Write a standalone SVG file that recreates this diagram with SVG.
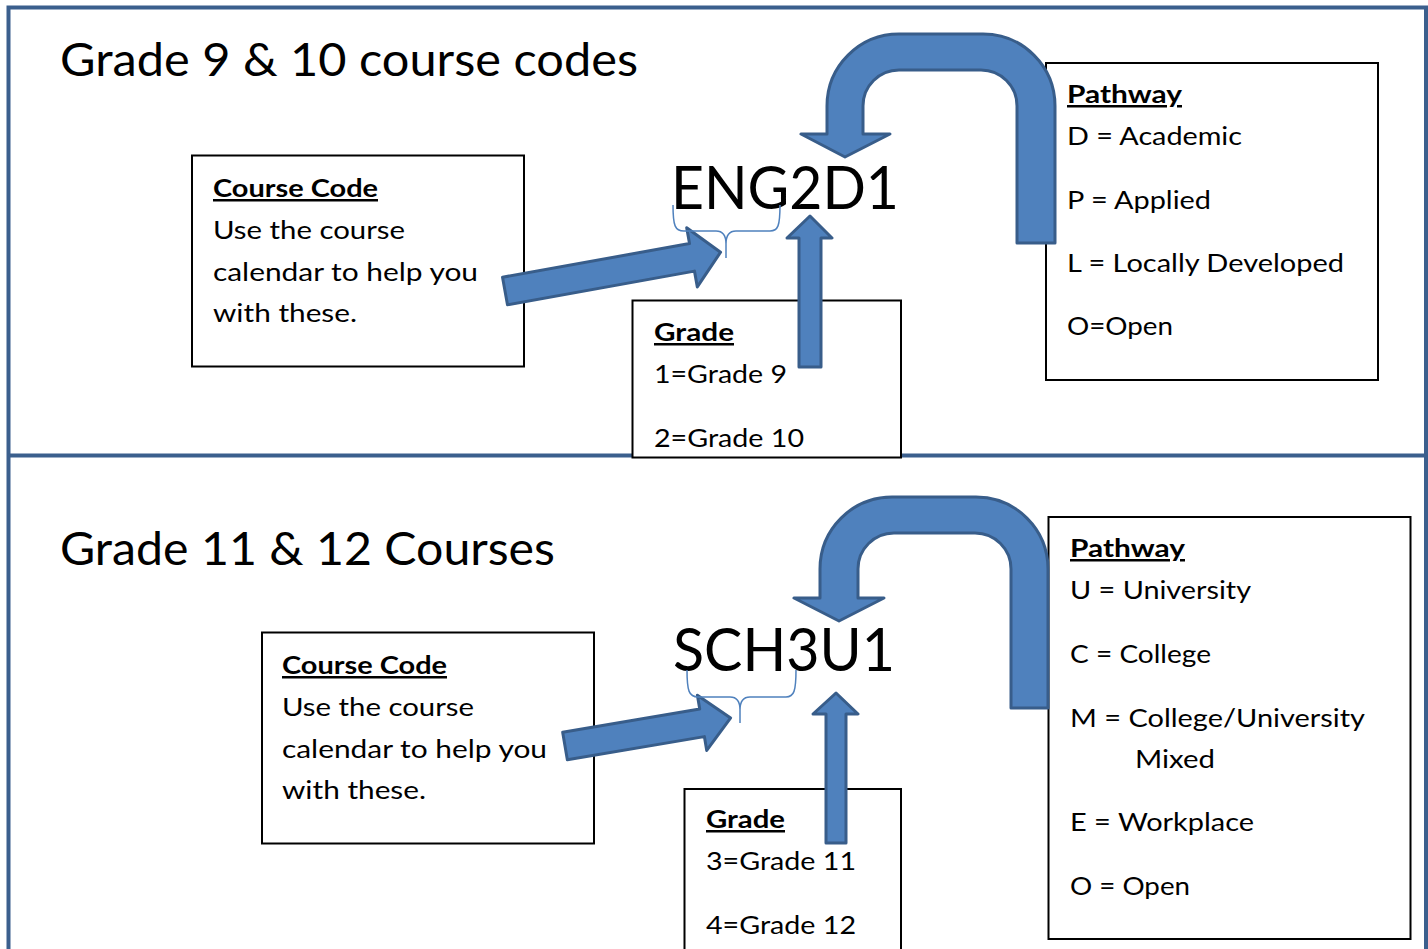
<svg xmlns="http://www.w3.org/2000/svg" width="1428" height="949" viewBox="0 0 1428 949">
<style>
.frame{fill:none;stroke:#3B5F8D;stroke-width:4}
.box{fill:#fff;stroke:#000;stroke-width:2}
.t{font-family:Lato,"Open Sans","Liberation Sans",sans-serif;font-size:25px;fill:#000}
.h{font-weight:bold;text-decoration:underline}
.title{font-family:Lato,"Open Sans","Liberation Sans",sans-serif;font-size:47px;fill:#000}
.code{font-family:Lato,"Open Sans","Liberation Sans",sans-serif;font-size:60px;fill:#000}
.arrow{fill:#4F81BD;stroke:#385D8A;stroke-width:3;stroke-linejoin:round}
.brace{fill:none;stroke:#4F81BD;stroke-width:1.5}
</style>
<rect width="1428" height="949" fill="#fff"/>
<g id="frame">
<rect class="frame" x="8.5" y="7.5" width="1417.5" height="970"/>
<line class="frame" x1="8" y1="455.5" x2="1426" y2="455.5"/>
</g>
<g id="title1"><text class="title" x="60" y="76" textLength="578" lengthAdjust="spacingAndGlyphs">Grade 9 &amp; 10 course codes</text></g>
<g id="title2"><text class="title" x="60" y="565" textLength="495" lengthAdjust="spacingAndGlyphs">Grade 11 &amp; 12 Courses</text></g>
<g id="code1"><text class="code" x="671" y="209" textLength="228" lengthAdjust="spacingAndGlyphs">ENG2D1</text></g>
<g id="code2"><text class="code" x="673" y="671" textLength="222" lengthAdjust="spacingAndGlyphs">SCH3U1</text></g>

<g id="coursecode1">
<rect class="box" x="192" y="155.5" width="332" height="211"/>
<text class="t h" x="213" y="197" textLength="165" lengthAdjust="spacingAndGlyphs">Course Code</text>
<text class="t" x="213" y="239" textLength="192" lengthAdjust="spacingAndGlyphs">Use the course</text>
<text class="t" x="213" y="281" textLength="265" lengthAdjust="spacingAndGlyphs">calendar to help you</text>
<text class="t" x="213" y="322" textLength="144" lengthAdjust="spacingAndGlyphs">with these.</text>
</g>
<g id="grade1">
<rect class="box" x="632.5" y="300.5" width="268.5" height="157"/>
<text class="t h" x="654" y="341" textLength="80" lengthAdjust="spacingAndGlyphs">Grade</text>
<text class="t" x="654" y="383" textLength="133" lengthAdjust="spacingAndGlyphs">1=Grade 9</text>
<text class="t" x="654" y="447" textLength="150" lengthAdjust="spacingAndGlyphs">2=Grade 10</text>
</g>
<g id="pathway1">
<rect class="box" x="1046" y="63" width="332" height="317"/>
<text class="t h" x="1067" y="103" textLength="115" lengthAdjust="spacingAndGlyphs">Pathway</text>
<text class="t" x="1067" y="145" textLength="175" lengthAdjust="spacingAndGlyphs">D = Academic</text>
<text class="t" x="1067" y="209" textLength="144" lengthAdjust="spacingAndGlyphs">P = Applied</text>
<text class="t" x="1067" y="272" textLength="277" lengthAdjust="spacingAndGlyphs">L = Locally Developed</text>
<text class="t" x="1067" y="335" textLength="106" lengthAdjust="spacingAndGlyphs">O=Open</text>
</g>

<g id="coursecode2">
<rect class="box" x="262" y="632.5" width="332" height="211"/>
<text class="t h" x="282" y="674" textLength="165" lengthAdjust="spacingAndGlyphs">Course Code</text>
<text class="t" x="282" y="716" textLength="192" lengthAdjust="spacingAndGlyphs">Use the course</text>
<text class="t" x="282" y="758" textLength="265" lengthAdjust="spacingAndGlyphs">calendar to help you</text>
<text class="t" x="282" y="799" textLength="144" lengthAdjust="spacingAndGlyphs">with these.</text>
</g>
<g id="grade2">
<rect class="box" x="684.5" y="789" width="216.5" height="200"/>
<text class="t h" x="706" y="828" textLength="79" lengthAdjust="spacingAndGlyphs">Grade</text>
<text class="t" x="706" y="870" textLength="150" lengthAdjust="spacingAndGlyphs">3=Grade 11</text>
<text class="t" x="706" y="934" textLength="150" lengthAdjust="spacingAndGlyphs">4=Grade 12</text>
</g>
<g id="pathway2">
<rect class="box" x="1048.5" y="517" width="362" height="422"/>
<text class="t h" x="1070" y="557" textLength="115" lengthAdjust="spacingAndGlyphs">Pathway</text>
<text class="t" x="1070" y="599" textLength="181" lengthAdjust="spacingAndGlyphs">U = University</text>
<text class="t" x="1070" y="663" textLength="141" lengthAdjust="spacingAndGlyphs">C = College</text>
<text class="t" x="1070" y="727" textLength="295" lengthAdjust="spacingAndGlyphs">M = College/University</text>
<text class="t" x="1135" y="768" textLength="80" lengthAdjust="spacingAndGlyphs">Mixed</text>
<text class="t" x="1070" y="831" textLength="184" lengthAdjust="spacingAndGlyphs">E = Workplace</text>
<text class="t" x="1070" y="895" textLength="120" lengthAdjust="spacingAndGlyphs">O = Open</text>
</g>

<g id="connectors">
<path class="arrow" d="M801,134 L827,134 L827,106 A72,72 0 0 1 899,34 L983,34 A72,72 0 0 1 1055,106 L1055,243 L1017,243 L1017,106 A36,36 0 0 0 981,70 L899,70 A36,36 0 0 0 863,106 L863,134 L890,134 L845,157 Z"/>
<path class="arrow" d="M794,598 L820,598 L820,569 A72,72 0 0 1 892,497 L976,497 A72,72 0 0 1 1048,569 L1048,708 L1011,708 L1011,569 A36,36 0 0 0 975,533 L894,533 A36,36 0 0 0 858,569 L858,598 L884,598 L839,621 Z"/>
<path class="arrow" d="M799,367 L799,238 L787,238 L810,216 L832,238 L821,238 L821,367 Z"/>
<path class="arrow" d="M826,843 L826,714 L813,714 L836,693 L858,714 L846,714 L846,843 Z"/>
<path class="arrow" transform="translate(505,291) rotate(-10.2)" d="M0,-14 L190,-14 L190,-30 L219,0 L190,30 L190,14 L0,14 Z"/>
<path class="arrow" transform="translate(565,746) rotate(-9.6)" d="M0,-14 L139,-14 L139,-28 L168,0 L139,28 L139,14 L0,14 Z"/>
<path class="brace" d="M673,205 C673,226 675,231 684,231 L716,231 C723,231 726,236 726,244 L726,258 M726,244 C726,236 729,231 736,231 L770,231 C778,231 780,226 780,205"/>
<path class="brace" d="M687,670 C687,691 689,697 698,697 L730,697 C737,697 740,702 740,710 L740,723 M740,710 C740,702 743,697 750,697 L786,697 C794,697 796,691 796,670"/>
</g>
</svg>
